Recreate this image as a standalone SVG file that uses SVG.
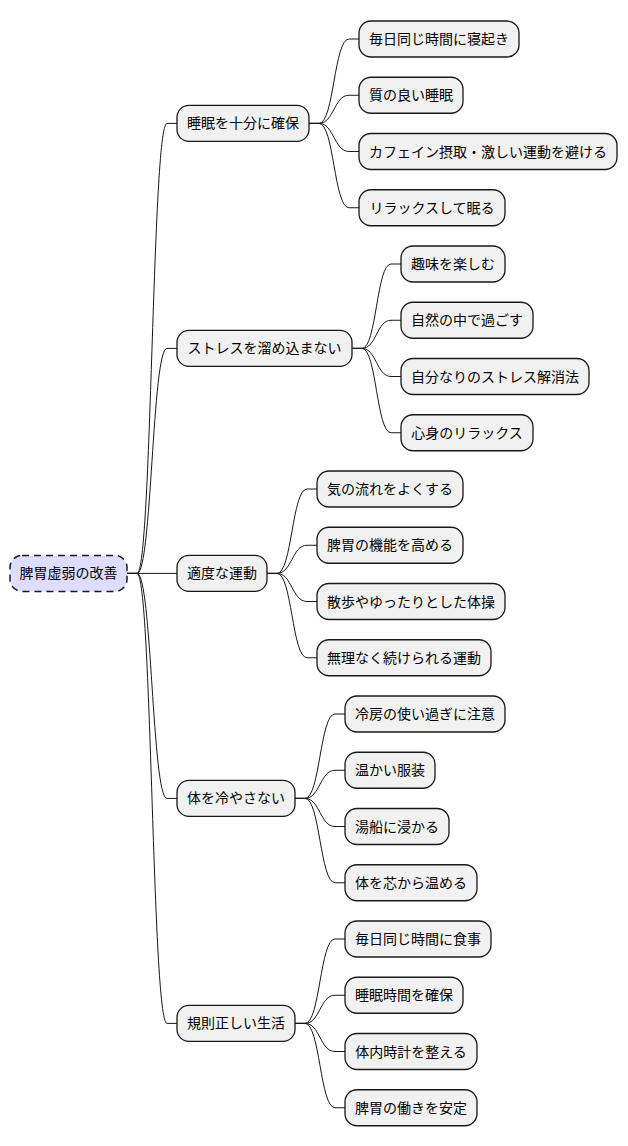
<svg xmlns="http://www.w3.org/2000/svg" width="628" height="1146" viewBox="0 0 628 1146">
<style>
.n rect{fill:#F1F1F1;stroke:#181818;stroke-width:1.3}
.r rect{fill:#DDDDFF;stroke:#181818;stroke-width:1.5;stroke-dasharray:7,5}
text{font-family:"Noto Sans CJK JP","Noto Sans",sans-serif;font-size:14px;fill:#000;text-anchor:middle}
.c path{fill:none;stroke:#181818;stroke-width:1}
</style>
<rect width="628" height="1146" fill="#fff"/>
<g class="c">
<path d="M127,573.4 L137,573.4 C152,573.4 152,123.4 167,123.4 L177,123.4"/>
<path d="M127,573.4 L137,573.4 C152,573.4 152,348.4 167,348.4 L177,348.4"/>
<path d="M127,573.4 L177,573.4"/>
<path d="M127,573.4 L137,573.4 C152,573.4 152,798.4 167,798.4 L177,798.4"/>
<path d="M127,573.4 L137,573.4 C152,573.4 152,1023.4 167,1023.4 L177,1023.4"/>
<path d="M309,123.4 L319,123.4 C334,123.4 334,39 349,39 L359,39"/>
<path d="M309,123.4 L319,123.4 C334,123.4 334,95.25 349,95.25 L359,95.25"/>
<path d="M309,123.4 L319,123.4 C334,123.4 334,151.5 349,151.5 L359,151.5"/>
<path d="M309,123.4 L319,123.4 C334,123.4 334,207.75 349,207.75 L359,207.75"/>
<path d="M352,348.4 L362,348.4 C376.5,348.4 376.5,264 391,264 L401,264"/>
<path d="M352,348.4 L362,348.4 C376.5,348.4 376.5,320.25 391,320.25 L401,320.25"/>
<path d="M352,348.4 L362,348.4 C376.5,348.4 376.5,376.5 391,376.5 L401,376.5"/>
<path d="M352,348.4 L362,348.4 C376.5,348.4 376.5,432.75 391,432.75 L401,432.75"/>
<path d="M267,573.4 L277,573.4 C292,573.4 292,489 307,489 L317,489"/>
<path d="M267,573.4 L277,573.4 C292,573.4 292,545.25 307,545.25 L317,545.25"/>
<path d="M267,573.4 L277,573.4 C292,573.4 292,601.5 307,601.5 L317,601.5"/>
<path d="M267,573.4 L277,573.4 C292,573.4 292,657.75 307,657.75 L317,657.75"/>
<path d="M295,798.4 L305,798.4 C320,798.4 320,714 335,714 L345,714"/>
<path d="M295,798.4 L305,798.4 C320,798.4 320,770.25 335,770.25 L345,770.25"/>
<path d="M295,798.4 L305,798.4 C320,798.4 320,826.5 335,826.5 L345,826.5"/>
<path d="M295,798.4 L305,798.4 C320,798.4 320,882.75 335,882.75 L345,882.75"/>
<path d="M295,1023.4 L305,1023.4 C320,1023.4 320,939 335,939 L345,939"/>
<path d="M295,1023.4 L305,1023.4 C320,1023.4 320,995.25 335,995.25 L345,995.25"/>
<path d="M295,1023.4 L305,1023.4 C320,1023.4 320,1051.5 335,1051.5 L345,1051.5"/>
<path d="M295,1023.4 L305,1023.4 C320,1023.4 320,1107.75 335,1107.75 L345,1107.75"/>
</g>
<g id="root" class="r"><rect x="10" y="555.4" width="117" height="36" rx="12"/><text x="68.5" y="578.4">脾胃虚弱の改善</text></g>

<g id="n1" class="n"><rect x="177" y="105.4" width="132" height="36" rx="12"/><text x="243" y="128.4">睡眠を十分に確保</text></g>
<g id="n1a" class="n"><rect x="359" y="21" width="160" height="36" rx="12"/><text x="439" y="44">毎日同じ時間に寝起き</text></g>
<g id="n1b" class="n"><rect x="359" y="77.25" width="104" height="36" rx="12"/><text x="411" y="100.25">質の良い睡眠</text></g>
<g id="n1c" class="n"><rect x="359" y="133.5" width="258" height="36" rx="12"/><text x="488" y="156.5">カフェイン摂取・激しい運動を避ける</text></g>
<g id="n1d" class="n"><rect x="359" y="189.75" width="146" height="36" rx="12"/><text x="432" y="212.75">リラックスして眠る</text></g>

<g id="n2" class="n"><rect x="177" y="330.4" width="175" height="36" rx="12"/><text x="264.5" y="353.4">ストレスを溜め込まない</text></g>
<g id="n2a" class="n"><rect x="401" y="246" width="104" height="36" rx="12"/><text x="453" y="269">趣味を楽しむ</text></g>
<g id="n2b" class="n"><rect x="401" y="302.25" width="132" height="36" rx="12"/><text x="467" y="325.25">自然の中で過ごす</text></g>
<g id="n2c" class="n"><rect x="401" y="358.5" width="188" height="36" rx="12"/><text x="495" y="381.5">自分なりのストレス解消法</text></g>
<g id="n2d" class="n"><rect x="401" y="414.75" width="132" height="36" rx="12"/><text x="467" y="437.75">心身のリラックス</text></g>

<g id="n3" class="n"><rect x="177" y="555.4" width="90" height="36" rx="12"/><text x="222" y="578.4">適度な運動</text></g>
<g id="n3a" class="n"><rect x="317" y="471" width="146" height="36" rx="12"/><text x="390" y="494">気の流れをよくする</text></g>
<g id="n3b" class="n"><rect x="317" y="527.25" width="146" height="36" rx="12"/><text x="390" y="550.25">脾胃の機能を高める</text></g>
<g id="n3c" class="n"><rect x="317" y="583.5" width="188" height="36" rx="12"/><text x="411" y="606.5">散歩やゆったりとした体操</text></g>
<g id="n3d" class="n"><rect x="317" y="639.75" width="174" height="36" rx="12"/><text x="404" y="662.75">無理なく続けられる運動</text></g>

<g id="n4" class="n"><rect x="177" y="780.4" width="118" height="36" rx="12"/><text x="236" y="803.4">体を冷やさない</text></g>
<g id="n4a" class="n"><rect x="345" y="696" width="160" height="36" rx="12"/><text x="425" y="719">冷房の使い過ぎに注意</text></g>
<g id="n4b" class="n"><rect x="345" y="752.25" width="90" height="36" rx="12"/><text x="390" y="775.25">温かい服装</text></g>
<g id="n4c" class="n"><rect x="345" y="808.5" width="104" height="36" rx="12"/><text x="397" y="831.5">湯船に浸かる</text></g>
<g id="n4d" class="n"><rect x="345" y="864.75" width="132" height="36" rx="12"/><text x="411" y="887.75">体を芯から温める</text></g>

<g id="n5" class="n"><rect x="177" y="1005.4" width="118" height="36" rx="12"/><text x="236" y="1028.4">規則正しい生活</text></g>
<g id="n5a" class="n"><rect x="345" y="921" width="146" height="36" rx="12"/><text x="418" y="944">毎日同じ時間に食事</text></g>
<g id="n5b" class="n"><rect x="345" y="977.25" width="118" height="36" rx="12"/><text x="404" y="1000.25">睡眠時間を確保</text></g>
<g id="n5c" class="n"><rect x="345" y="1033.5" width="132" height="36" rx="12"/><text x="411" y="1056.5">体内時計を整える</text></g>
<g id="n5d" class="n"><rect x="345" y="1089.75" width="132" height="36" rx="12"/><text x="411" y="1112.75">脾胃の働きを安定</text></g>
</svg>
